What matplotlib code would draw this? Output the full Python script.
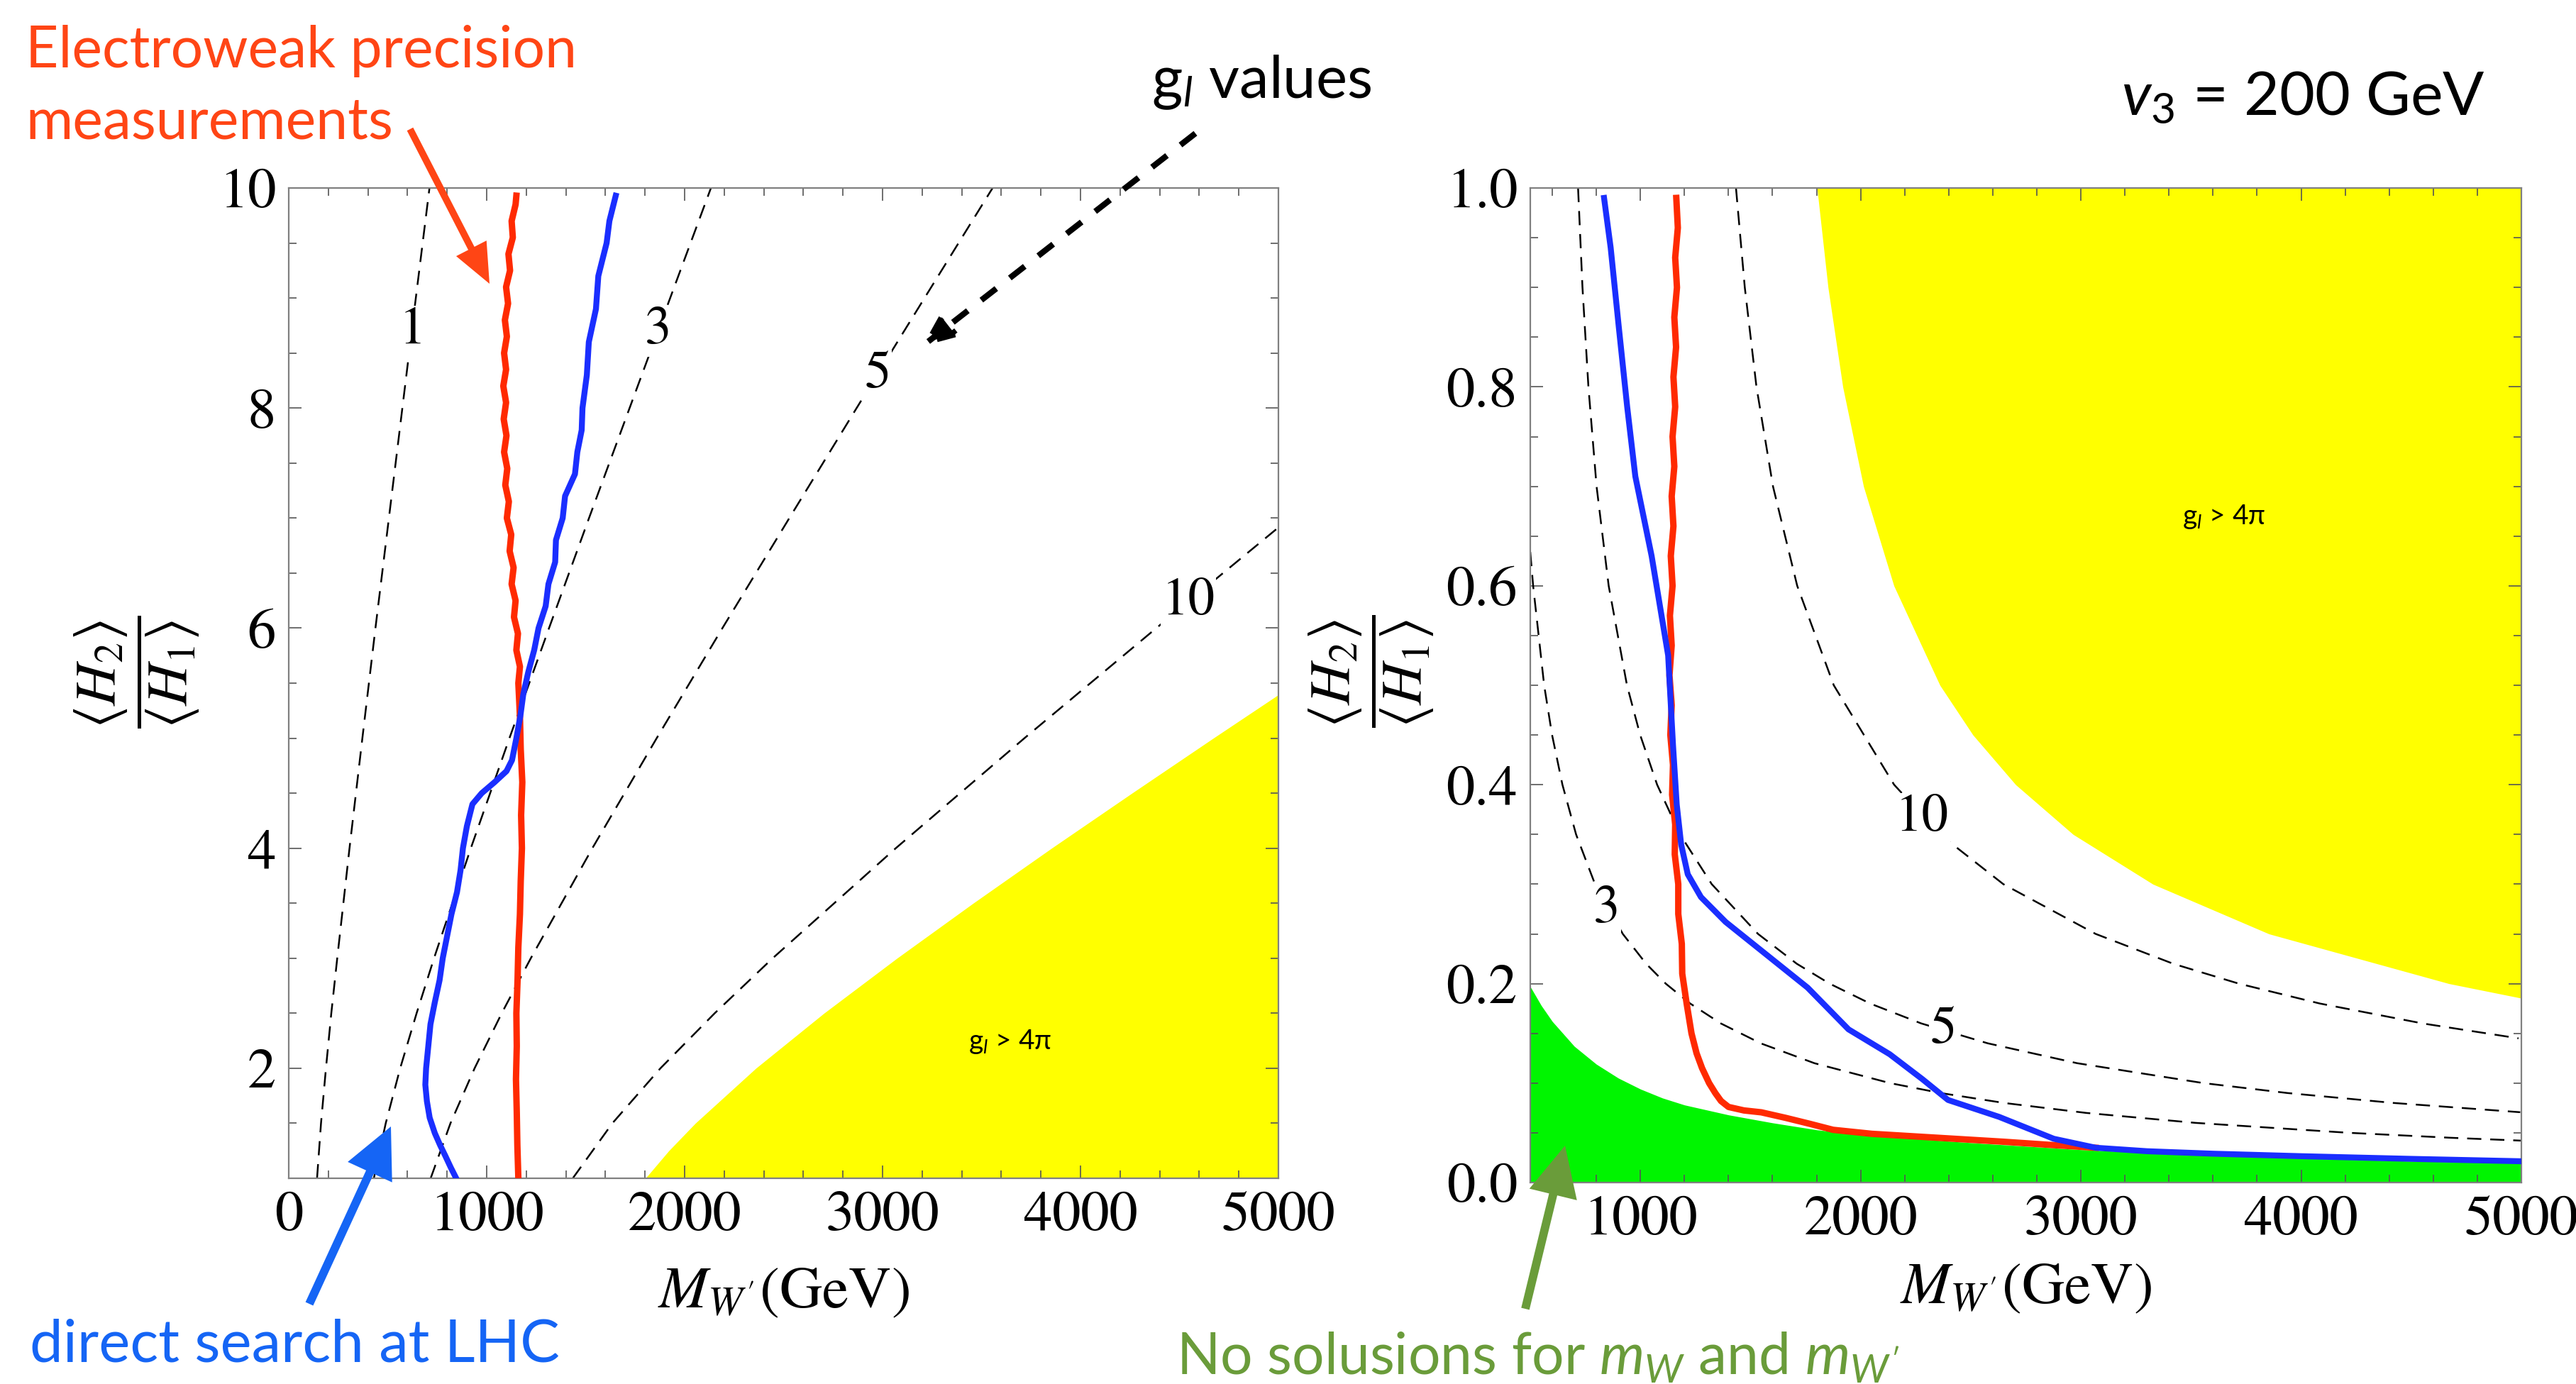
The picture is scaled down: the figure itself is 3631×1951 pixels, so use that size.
import matplotlib
matplotlib.use('Agg')
import matplotlib.pyplot as plt
from matplotlib.patches import FancyArrowPatch
from matplotlib.ticker import MultipleLocator, FormatStrFormatter

# ---------------- data ----------------
# Left panel: x = M_W' (GeV), y = <H2>/<H1>
left_r = [1.0, 1.5, 2.0, 2.5, 3.0, 4.0, 5.0, 6.0, 7.0, 8.0, 9.0, 10.0]
left_g1_M = [143, 163, 188, 215, 245, 307, 372, 438, 506, 574, 642, 711]
left_g3_M = [430, 490, 563, 646, 734, 920, 1115, 1315, 1517, 1722, 1927, 2133]
left_g5_M = [717, 817, 939, 1076, 1223, 1534, 1859, 2191, 2529, 2869, 3212, 3556]
left_g10_r = [1.0, 1.5, 2.0, 2.5, 3.0, 4.0, 5.0, 6.0, 6.9]
left_g10_M = [1435, 1635, 1878, 2152, 2445, 3067, 3717, 4383, 4990]

left_yellow_r = [1.0, 1.25, 1.5, 2.0, 2.5, 3.0, 3.5, 4.0, 4.5, 5.0, 5.4]
left_yellow_M = [1802, 1920, 2054, 2360, 2704, 3073, 3458, 3854, 4260, 4671, 5004]

left_red_r = [1.0, 1.3, 1.6, 1.9, 2.2, 2.5, 2.8, 3.1, 3.4, 3.7, 4.0, 4.3, 4.6, 4.9,
              5.2, 5.5, 5.65, 5.8, 5.95, 6.1, 6.25, 6.4, 6.55, 6.7, 6.85, 7.0,
              7.15, 7.3, 7.45, 7.6, 7.75, 7.9, 8.05, 8.2, 8.35, 8.5, 8.65, 8.8,
              8.95, 9.1, 9.25, 9.4, 9.55, 9.7, 9.85, 9.93]
left_red_M = [1160, 1155, 1152, 1148, 1152, 1150, 1156, 1160, 1168, 1172, 1178,
              1174, 1180, 1172, 1168, 1160, 1168, 1150, 1158, 1138, 1146, 1126,
              1136, 1116, 1124, 1102, 1112, 1094, 1104, 1088, 1100, 1086, 1098,
              1084, 1098, 1088, 1102, 1092, 1108, 1098, 1118, 1110, 1132, 1126,
              1146, 1150]

left_blue_r = [1.0, 1.1, 1.2, 1.3, 1.41, 1.55, 1.7, 1.85, 2.0, 2.2, 2.4, 2.6, 2.8,
               3.0, 3.2, 3.4, 3.6, 3.8, 4.0, 4.2, 4.4, 4.5, 4.6, 4.7, 4.8, 5.0,
               5.2, 5.4, 5.6, 5.8, 6.0, 6.2, 6.4, 6.6, 6.8, 7.0, 7.2, 7.4, 7.6,
               7.8, 8.0, 8.3, 8.6, 8.9, 9.2, 9.5, 9.7, 9.93]
left_blue_M = [846, 818, 792, 765, 738, 712, 698, 690, 694, 705, 716, 738, 762,
               778, 800, 822, 850, 868, 880, 900, 928, 975, 1040, 1100, 1128, 1150,
               1170, 1185, 1210, 1240, 1262, 1298, 1312, 1346, 1350, 1384, 1396,
               1446, 1458, 1480, 1484, 1506, 1516, 1552, 1564, 1606, 1620, 1652]

left_labels = ['1', '3', '5', '10']
left_label_M = [625, 1866, 2975, 4545]
left_label_r = [8.7, 8.7, 8.3, 6.24]

# Right panel (v3 = 200 GeV)
right_g3_r = [0.634, 0.6, 0.5, 0.45, 0.4, 0.35, 0.3, 0.25, 0.22, 0.2, 0.18, 0.16,
              0.14, 0.12, 0.1, 0.09, 0.08, 0.07, 0.06, 0.05, 0.045, 0.042]
right_g3_M = [500, 513, 563, 599, 646, 708, 794, 920, 1026, 1115, 1226, 1365,
              1546, 1790, 2133, 2363, 2652, 3024, 3520, 4217, 4681, 5014]
right_g5_r = [1.0, 0.9, 0.8, 0.7, 0.6, 0.5, 0.45, 0.4, 0.35, 0.3, 0.25, 0.22, 0.2,
              0.18, 0.16, 0.14, 0.12, 0.1, 0.09, 0.08, 0.0707]
right_g5_M = [717, 737, 764, 801, 856, 939, 999, 1076, 1180, 1324, 1534, 1710,
              1859, 2043, 2275, 2577, 2983, 3556, 3938, 4421, 4995]
right_g10_r = [1.0, 0.9, 0.8, 0.7, 0.6, 0.5, 0.4, 0.35, 0.3, 0.25, 0.22, 0.2, 0.18,
               0.16, 0.145]
right_g10_M = [1434, 1474, 1527, 1602, 1712, 1878, 2152, 2360, 2648, 3067, 3419,
               3717, 4085, 4551, 4987]

right_yellow_r = [1.0, 0.9, 0.8, 0.7, 0.6, 0.5, 0.45, 0.4, 0.35, 0.3, 0.25, 0.2, 0.185]
right_yellow_M = [1802, 1852, 1919, 2013, 2151, 2360, 2510, 2704, 2965, 3327, 3854,
                  4671, 5008]

right_green_M = [500, 550, 600, 700, 800, 900, 1000, 1100, 1200, 1400, 1600, 1800,
                 2000, 2500, 3000, 3500, 4000, 4500, 5000]
right_green_r = [0.197, 0.178, 0.162, 0.137, 0.119, 0.105, 0.094, 0.085, 0.078,
                 0.068, 0.060, 0.053, 0.048, 0.040, 0.033, 0.028, 0.0245, 0.0215, 0.0195]

right_red_r = [0.99, 0.96, 0.93, 0.90, 0.87, 0.84, 0.81, 0.78, 0.75, 0.72, 0.69,
               0.66, 0.63, 0.60, 0.57, 0.54, 0.51, 0.48, 0.45, 0.42, 0.39, 0.36,
               0.33, 0.30, 0.27, 0.24, 0.21, 0.18, 0.15, 0.13, 0.115, 0.1,
               0.09, 0.082, 0.076, 0.0725, 0.0706, 0.065, 0.059, 0.053, 0.049,
               0.045, 0.041, 0.038, 0.035]
right_red_M = [1163, 1170, 1158, 1166, 1154, 1162, 1150, 1158, 1146, 1154, 1142,
               1150, 1138, 1146, 1134, 1142, 1132, 1142, 1136, 1148, 1144, 1158,
               1156, 1172, 1172, 1188, 1190, 1210, 1232, 1255, 1280, 1312,
               1340, 1366, 1400, 1470, 1549, 1660, 1770, 1875, 2050, 2350, 2650,
               2850, 3067]

right_blue_r = [0.99, 0.94, 0.86, 0.78, 0.71, 0.63, 0.53, 0.44, 0.38, 0.34, 0.31,
                0.287, 0.262, 0.229, 0.196, 0.154, 0.129, 0.104, 0.083, 0.066,
                0.044, 0.035, 0.0315, 0.029, 0.0265, 0.0238, 0.0214]
right_blue_M = [835, 865, 902, 940, 977, 1051, 1126, 1148, 1165, 1185, 1215, 1275,
                1387, 1573, 1759, 1945, 2132, 2280, 2397, 2629, 2877, 3067, 3300,
                3600, 4000, 4500, 5000]

right_labels = ['3', '10', '5']
right_label_M = [848, 2280, 2377]
right_label_r = [0.274, 0.366, 0.153]

left_xticks = [0, 1000, 2000, 3000, 4000, 5000]
left_yticks = [2, 4, 6, 8, 10]
right_xticks = [1000, 2000, 3000, 4000, 5000]
right_yticks = [0.0, 0.2, 0.4, 0.6, 0.8, 1.0]

# ---------------- style ----------------
plt.rcParams['font.family'] = ['STIXGeneral', 'DejaVu Serif']
plt.rcParams['mathtext.fontset'] = 'stix'
plt.rcParams['mathtext.rm'] = 'Lato'
plt.rcParams['mathtext.it'] = 'Lato:italic'
plt.rcParams['mathtext.bf'] = 'Lato:bold'

W, H = 3631, 1951
fig = plt.figure(figsize=(W / 100, H / 100), dpi=100)
fig.patch.set_facecolor('white')


def rect(l, t, r, b):
    return [l / W, 1 - b / H, (r - l) / W, (b - t) / H]


axL = fig.add_axes(rect(407, 265, 1802, 1661))
axR = fig.add_axes(rect(2157, 265, 3554, 1667))

RED = '#FF2A00'
BLUE = '#1A2EFF'
YELLOW = '#FFFF00'
GREEN = '#00F500'
DASH = dict(color='black', lw=1.8, dashes=(8, 5), zorder=2)


def style(ax):
    for s in ax.spines.values():
        s.set_color('#808080')
        s.set_linewidth(1.6)
    ax.tick_params(which='both', direction='in', top=True, right=True,
                   color='#555555', width=1.2)
    ax.tick_params(which='major', length=13, pad=13, labelsize=58)
    ax.tick_params(which='minor', length=8)


# Left panel
axL.fill_betweenx(left_yellow_r, left_yellow_M, 5000, color=YELLOW, lw=0, zorder=1)
axL.plot(left_g1_M, left_r, **DASH)
axL.plot(left_g3_M, left_r, **DASH)
axL.plot(left_g5_M, left_r, **DASH)
axL.plot(left_g10_M, left_g10_r, **DASH)
axL.plot(left_red_M, left_red_r, color=RED, lw=6.5, zorder=4, solid_joinstyle='round')
axL.plot(left_blue_M, left_blue_r, color=BLUE, lw=6, zorder=5, solid_joinstyle='round')
for t, m, r in zip(left_labels, left_label_M, left_label_r):
    axL.text(m, r, t, ha='center', va='center', fontsize=54, zorder=3,
             bbox=dict(fc='white', ec='none', pad=1))
axL.set_xlim(0, 5000)
axL.set_ylim(1, 10)
axL.set_xticks(left_xticks)
axL.set_yticks(left_yticks)
axL.xaxis.set_minor_locator(MultipleLocator(200))
axL.yaxis.set_minor_locator(MultipleLocator(0.5))
style(axL)

# Right panel
axR.fill_between(right_green_M, 0, right_green_r, color=GREEN, lw=0, zorder=1)
axR.fill_betweenx(right_yellow_r, right_yellow_M, 5000, color=YELLOW, lw=0, zorder=1)
axR.plot(right_g3_M, right_g3_r, **DASH)
axR.plot(right_g5_M, right_g5_r, **DASH)
axR.plot(right_g10_M, right_g10_r, **DASH)
axR.plot(right_red_M, right_red_r, color=RED, lw=6.5, zorder=4, solid_joinstyle='round')
axR.plot(right_blue_M, right_blue_r, color=BLUE, lw=6, zorder=5, solid_joinstyle='round')
for t, m, r in zip(right_labels, right_label_M, right_label_r):
    axR.text(m, r, t, ha='center', va='center', fontsize=54, zorder=3,
             bbox=dict(fc='white', ec='none', pad=1))
axR.set_xlim(500, 5000)
axR.set_ylim(0, 1)
axR.set_xticks(right_xticks)
axR.set_yticks(right_yticks)
axR.yaxis.set_major_formatter(FormatStrFormatter('%.1f'))
axR.xaxis.set_minor_locator(MultipleLocator(200))
axR.yaxis.set_minor_locator(MultipleLocator(0.05))
style(axR)

ylab = r'$\dfrac{\langle H_2\rangle}{\langle H_1\rangle}$'
xlab = r'$M_{W^{\prime}}$(GeV)'
for ax, yc, xc in ((axL, (-0.153, 0.511), (0.5, -0.117)),
                   (axR, (-0.160, 0.514), (0.5, -0.108))):
    ax.set_ylabel(ylab, fontsize=59)
    ax.yaxis.set_label_coords(*yc)
    ax.yaxis.label.set_va('center')
    ax.set_xlabel(xlab, fontsize=60)
    ax.xaxis.set_label_coords(*xc)
    ax.xaxis.label.set_va('center')

# ---------------- annotations (overlay in pixel coordinates) ----------------
ov = fig.add_axes([0, 0, 1, 1], zorder=10)
ov.set_xlim(0, W)
ov.set_ylim(H, 0)
ov.axis('off')
ov.patch.set_alpha(0)

SANS = ['Lato', 'DejaVu Sans']
EWC = '#FF4515'
LHCC = '#1565F5'
NOC = '#6A9C3A'

ov.text(36, 95, 'Electroweak precision', family=SANS, fontsize=58, color=EWC,
        ha='left', va='baseline')
ov.text(36, 195, 'measurements', family=SANS, fontsize=58, color=EWC,
        ha='left', va='baseline')
ov.text(1623, 138, r'g$_{\mathit{l}}$ values', family=SANS, fontsize=60,
        color='black', ha='left', va='baseline', math_fontfamily='custom')
ov.text(2990, 162, r'$v_3$ = 200 GeV', family=SANS, fontsize=62, color='black',
        ha='left', va='baseline', math_fontfamily='custom')
ov.text(42, 1920, 'direct search at LHC', family=SANS, fontsize=60, color=LHCC,
        ha='left', va='baseline')
ov.text(1658, 1938, r'No solusions for $m_W$ and $m_{W^{\prime}}$', family=SANS,
        fontsize=58, color=NOC, ha='left', va='baseline', math_fontfamily='custom')
ov.text(1424, 1468, r'g$_{\mathit{l}}$ > 4π', family=SANS, fontsize=28, color='black',
        ha='center', va='center', math_fontfamily='custom')
ov.text(3135, 728, r'g$_{\mathit{l}}$ > 4π', family=SANS, fontsize=28, color='black',
        ha='center', va='center', math_fontfamily='custom')


def arrow(tail, tip, color, lw, hl, hw, ls='-'):
    a = FancyArrowPatch(tail, tip, arrowstyle=f'-|>,head_length={hl},head_width={hw}',
                        mutation_scale=1, color=color, lw=lw, linestyle=ls,
                        shrinkA=0, shrinkB=0, joinstyle='miter', capstyle='butt')
    ov.add_patch(a)


arrow((578, 182), (690, 400), EWC, 7, 28, 12)
arrow((1685, 188), (1300, 488), 'black', 6, 26, 11, ls=(0, (3.2, 2.9)))
arrow((436, 1838), (551, 1588), LHCC, 8.5, 37, 18)
arrow((2150, 1845), (2206, 1615), NOC, 8.5, 37, 18)

fig.savefig('out.png', dpi=100)
